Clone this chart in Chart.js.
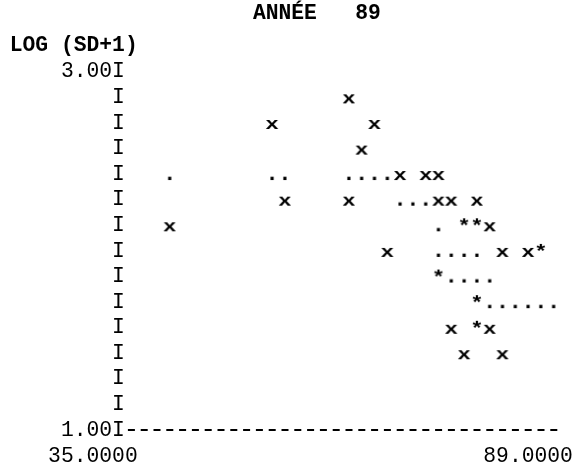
<!DOCTYPE html>
<html><head><meta charset="utf-8">
<script src="https://cdn.jsdelivr.net/npm/chart.js@4"></script>
<style>html,body{margin:0;padding:0;background:#fff}canvas{display:block}</style>
</head><body>
<canvas id="c" width="576" height="467"></canvas>
<script>
// ---- data ----
const chartTitle = 'ANNÉE   89';
const yAxisLabel = 'LOG (SD+1)';
const yTickValues = [3.000, 2.857, 2.714, 2.571, 2.429, 2.286, 2.143, 2.000, 1.857, 1.714, 1.571, 1.429, 1.286, 1.143, 1.000];
const yTickLabels = ['3.00', '', '', '', '', '', '', '', '', '', '', '', '', '', '1.00'];
const xTickValues = [35, 89];
const xTickLabels = ['35.0000', '89.0000'];

// 'x' symbols
const crossX = [62.82, 53.00, 66.09, 64.45, 69.36, 72.64, 74.27, 54.64, 62.82, 74.27, 75.91, 79.18, 39.91, 80.82, 67.73, 82.45, 85.73, 75.91, 80.82, 77.55, 82.45];
const crossY = [2.857, 2.714, 2.714, 2.571, 2.429, 2.429, 2.429, 2.286, 2.286, 2.286, 2.286, 2.286, 2.143, 2.143, 2.000, 2.000, 2.000, 1.571, 1.571, 1.429, 1.429];
// '.' symbols
const dotX = [39.91, 53.00, 54.64, 62.82, 64.45, 66.09, 67.73, 69.36, 71.00, 72.64, 74.27, 74.27, 75.91, 77.55, 79.18, 75.91, 77.55, 79.18, 80.82, 80.82, 82.45, 84.09, 85.73, 87.36, 89.00];
const dotY = [2.429, 2.429, 2.429, 2.429, 2.429, 2.429, 2.429, 2.286, 2.286, 2.286, 2.143, 2.000, 2.000, 2.000, 2.000, 1.857, 1.857, 1.857, 1.857, 1.714, 1.714, 1.714, 1.714, 1.714, 1.714];
// '*' symbols
const starX = [77.55, 79.18, 87.36, 74.27, 79.18, 79.18];
const starY = [2.143, 2.143, 2.000, 1.857, 1.714, 1.571];

// x axis range: half a print column beyond 35 and 89
const xMin = 34.18, xMax = 89.82;

// ---- styling ----
const FONT = '"Liberation Mono", "DejaVu Sans Mono", monospace';
const FS = 21.33;
const CELL = 12.8;

function glyph(ch, weight, sy) {
  const c = document.createElement('canvas');
  c.width = 26; c.height = 26;
  const g = c.getContext('2d');
  g.font = weight + ' ' + FS + 'px ' + FONT;
  g.fillStyle = '#000';
  g.textAlign = 'center';
  g.textBaseline = 'alphabetic';
  g.translate(13, 19);
  g.scale(1.05, sy);
  g.fillText(ch, 0, 0);
  return c;
}
const pts = (xs, ys) => xs.map((v, i) => ({x: v, y: ys[i]}));

const printText = {
  id: 'printText',
  afterDraw(chart) {
    const {ctx, scales: {x}} = chart;
    ctx.save();
    ctx.fillStyle = '#000';
    ctx.textBaseline = 'middle';
    ctx.textAlign = 'left';
    ctx.font = 'bold ' + FS + 'px ' + FONT;
    ctx.fillText(chartTitle, 252.9, 14);
    ctx.fillText(yAxisLabel, 9.7, 46);
    ctx.font = FS + 'px ' + FONT;
    ctx.textAlign = 'right';
    const extra = [0.5, 1.5];
    xTickValues.forEach((v, i) => ctx.fillText(xTickLabels[i], x.getPixelForValue(v) + extra[i] * CELL, 456));
    ctx.restore();
  }
};

new Chart(document.getElementById('c'), {
  type: 'scatter',
  data: {
    datasets: [
      {label: 'x', data: pts(crossX, crossY), pointStyle: glyph('x', 'bold', 0.8), pointRadius: 6, clip: false},
      {label: '.', data: pts(dotX, dotY), pointStyle: glyph('.', 'bold', 1), pointRadius: 6, clip: false},
      {label: '*', data: pts(starX, starY), pointStyle: glyph('*', 'bold', 0.9), pointRadius: 6, clip: false}
    ]
  },
  options: {
    responsive: false,
    animation: false,
    events: [],
    layout: {padding: {top: 71.7, right: 15.9, bottom: 0, left: 0}},
    plugins: {legend: {display: false}, tooltip: {enabled: false}, title: {display: false}},
    scales: {
      x: {
        type: 'linear', min: xMin, max: xMax, position: 'bottom',
        grid: {display: false}, border: {display: false}, ticks: {display: false},
        afterFit(s) { s.height = 36.9; }
      },
      y: {
        type: 'linear', min: 1, max: 3,
        afterBuildTicks(s) { s.ticks = yTickValues.map(v => ({value: v})); },
        ticks: {
          autoSkip: false, padding: 0, color: '#000',
          font: {family: FONT, size: FS},
          callback(v, i) { return yTickLabels[i] + 'I'; }
        },
        grid: {
          display: true, drawTicks: false, drawOnChartArea: true, lineWidth: 2,
          color: c => (c.tick && c.tick.value === 1) ? '#000' : 'rgba(0,0,0,0)'
        },
        border: {display: false, dash: [7, 5.8], dashOffset: 9.9},
        afterFit(s) { s.width = 124.9; }
      }
    }
  },
  plugins: [printText]
});
</script>
</body></html>
